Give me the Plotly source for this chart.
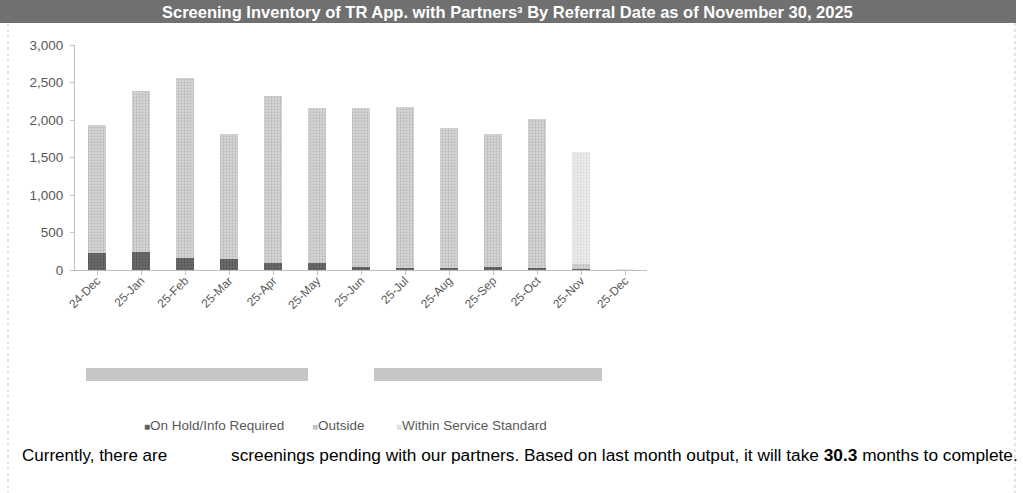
import plotly.graph_objects as go

# referral months
months = ['24-Dec', '25-Jan', '25-Feb', '25-Mar', '25-Apr', '25-May', '25-Jun',
          '25-Jul', '25-Aug', '25-Sep', '25-Oct', '25-Nov', '25-Dec']

# screenings by status
series_names = ['On Hold/Info Required', 'Outside', 'Within Service Standard']
on_hold = [230, 240, 165, 145, 98, 95, 40, 30, 25, 45, 30, 15, 0]
outside = [1710, 2150, 2395, 1675, 2222, 2065, 2120, 2150, 1865, 1775, 1990, 70, 0]
within_std = [0, 0, 0, 0, 0, 0, 0, 0, 0, 0, 0, 1495, 10]

y_ticks = [0, 500, 1000, 1500, 2000, 2500, 3000]

title_text = "Screening Inventory of TR App. with Partners³ By Referral Date as of November 30, 2025"
months_to_complete = "30.3"

W, H = 1023, 493
L, R, T, B = 75, 647, 45, 270  # plot area in pixels


def px_x(p):
    return (p - L) / (R - L)


def px_y(p):
    return (B - p) / (B - T)


# (solid colour, pattern dots, pattern background)
styles = [('#5e5e5e', '#3c3c3c', '#6e6e6e'),
          ('#c4c4c4', '#a0a0a0', '#d8d8d8'),
          ('#e2e2e2', '#c8c8c8', '#eeeeee')]

fig = go.Figure()
for name, vals, (col, fg, bg) in zip(series_names, [on_hold, outside, within_std], styles):
    fig.add_trace(go.Bar(
        x=months, y=vals, name=name, showlegend=False,
        marker=dict(color=col, line_width=0,
                    pattern=dict(shape='.', fgcolor=fg, bgcolor=bg, size=3, solidity=0.45))
    ))

# hand-made legend (small squares like the original)
legend_x = [142, 310, 394]
for name, (col, fg, bg), lx in zip(series_names, styles, legend_x):
    fig.add_annotation(x=px_x(lx), y=px_y(425), xref='paper', yref='paper',
                       text='<span style="color:%s;font-size:10px">■</span>%s' % (col, name),
                       showarrow=False, font=dict(size=13.5, color='#595959'),
                       xanchor='left', yanchor='middle')

# title band
fig.add_shape(type='rect', xref='paper', yref='paper',
              x0=px_x(0), x1=px_x(1016), y0=px_y(23), y1=px_y(0),
              fillcolor='#707070', line_width=0, layer='below')
fig.add_annotation(x=px_x(507), y=px_y(11.5), xref='paper', yref='paper',
                   text='<b>' + title_text + '</b>', showarrow=False,
                   font=dict(size=16.5, color='white'), xanchor='center', yanchor='middle')

# dotted borders
for bx in [8, 1015]:
    fig.add_shape(type='line', xref='paper', yref='paper',
                  x0=px_x(bx), x1=px_x(bx), y0=px_y(23), y1=px_y(H),
                  line=dict(color='#c8c8c8', width=1, dash='dot'))

# grey blocks under the axis
for x0, x1 in [(86, 308), (374, 602)]:
    fig.add_shape(type='rect', xref='paper', yref='paper',
                  x0=px_x(x0), x1=px_x(x1), y0=px_y(381), y1=px_y(368),
                  fillcolor='#c6c6c6', line_width=0)

# footer text
fig.add_annotation(x=px_x(20), y=px_y(455), xref='paper', yref='paper',
                   text='Currently, there are', showarrow=False,
                   font=dict(size=17, color='black'), xanchor='left', yanchor='middle')
fig.add_annotation(x=px_x(229), y=px_y(455), xref='paper', yref='paper',
                   text='screenings pending with our partners. Based on last month output, it will take <b>'
                        + months_to_complete + '</b> months to complete.',
                   showarrow=False, font=dict(size=17.3, color='black'),
                   xanchor='left', yanchor='middle')

fig.update_layout(
    barmode='stack',
    bargap=0.57,
    width=W, height=H,
    margin=dict(l=L, r=W - R, t=T, b=H - B, pad=0),
    paper_bgcolor='white',
    plot_bgcolor='white',
    font=dict(family='Liberation Sans, Arial, sans-serif', size=13.5, color='#595959'),
    showlegend=False,
)

fig.update_xaxes(
    showline=True, linecolor='#bfbfbf', linewidth=1,
    ticks='outside', ticklen=4, tickcolor='#bfbfbf',
    tickangle=-45, showgrid=False,
    ticklabelstandoff=-6,
    tickfont=dict(size=12, color='#595959'),
)
fig.update_yaxes(
    range=[0, 3000], tickvals=y_ticks, tickformat=',',
    showline=True, linecolor='#bfbfbf', linewidth=1,
    ticks='outside', ticklen=4, tickcolor='#bfbfbf',
    ticklabelstandoff=4,
    showgrid=False, zeroline=False,
    tickfont=dict(size=13.5, color='#595959'),
)

fig.write_html("out.html", config={'displayModeBar': False},
               post_script="document.body.style.margin='0';")
